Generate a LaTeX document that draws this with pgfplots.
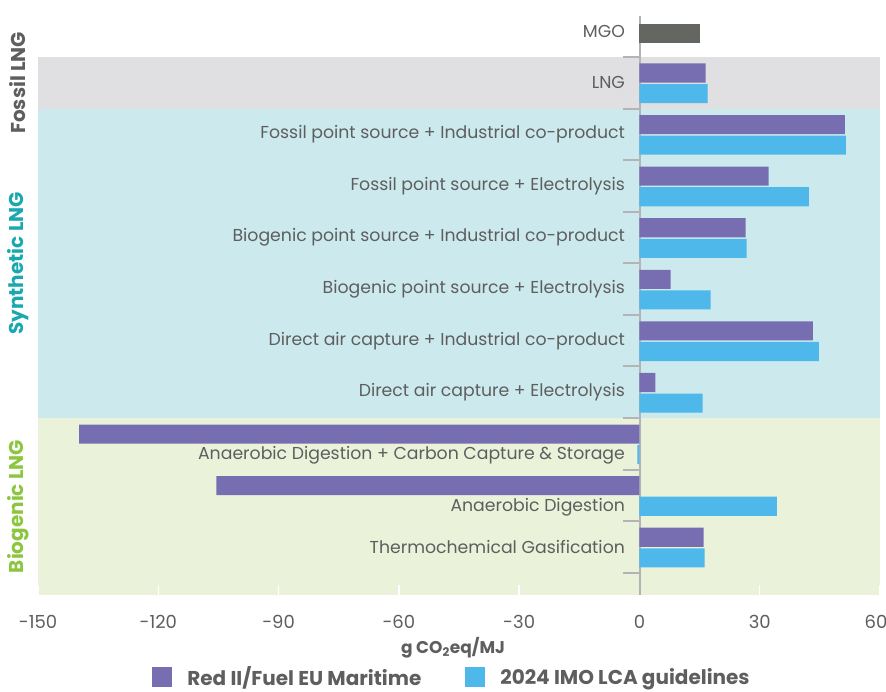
\documentclass[border=0pt]{standalone}
\usepackage{fontspec}
\setmainfont{Poppins}
\usepackage{pgfplots}
\pgfplotsset{compat=1.18}
\definecolor{mypurple}{HTML}{766EB1}
\definecolor{myblue}{HTML}{4DB8E9}
\definecolor{mygreybar}{HTML}{646662}
\definecolor{bandgrey}{HTML}{E0DFE1}
\definecolor{bandcyan}{HTML}{CCEAEE}
\definecolor{bandgreen}{HTML}{EAF3DA}
\definecolor{txt}{HTML}{5E5E5E}
\definecolor{axgrey}{HTML}{B4B4B8}
\definecolor{tealtxt}{HTML}{1AA8B0}
\definecolor{greentxt}{HTML}{8CC63F}
\begin{document}
\begin{tikzpicture}
\begin{axis}[
  set layers,
  scale only axis, width=842pt, height=587pt,
  xmin=-150, xmax=60, ymin=-0.45, ymax=10.93, y dir=reverse,
  axis line style={draw=none},
  xtick={-150,-120,...,60}, ytick=\empty,
  xticklabels={{-150},{-120},{-90},{-60},{-30},{0},{30},{\kern-8pt 60}},
  tick align=inside, major tick length=10pt,
  x tick style={white, line width=1.5pt},
  xticklabel style={font=\fontsize{18}{18}\selectfont, text=txt, yshift=-17pt},
  clip=false,
  legend style={at={(axis cs:-46.75,12.52)}, anchor=center, draw=none, fill=none,
    font=\bfseries\fontsize{20}{20}\selectfont, text=txt,
    /tikz/every odd column/.append style={column sep=13pt},
    /tikz/every even column/.append style={column sep=42pt}},
  legend columns=2,
]
\begin{pgfonlayer}{axis background}
\fill[bandgrey] (axis cs:-150,0.5) rectangle (axis cs:60,1.5);
\fill[bandcyan] (axis cs:-150,1.5) rectangle (axis cs:60,7.5);
\fill[bandgreen] (axis cs:-150,7.5) rectangle (axis cs:60,10.93);
\end{pgfonlayer}
\draw[axgrey, line width=2pt] (axis cs:0.1,-0.3) -- (axis cs:0.1,10.93);
\pgfplotsinvokeforeach{0.5,1.5,2.5,3.5,4.5,5.5,6.5,7.5,8.5,9.5,10.5}{\draw[axgrey, line width=2pt] (axis cs:-4,#1) -- (axis cs:0,#1);}
\addplot[xbar, bar width=0.37, bar shift=0.05, fill=mygreybar, draw=none, forget plot]
  coordinates {(15,0)};
\addplot[xbar, bar width=0.37, bar shift=-0.19, fill=mypurple, draw=none,
  legend image code/.code={\fill[mypurple] (0pt,-10pt) rectangle (20pt,10pt);}]
  coordinates {(16.5,1) (51.25,2) (32.25,3) (26.5,4) (7.75,5) (43.25,6) (4,7) (-139.75,8) (-105.5,9) (16,10)};
\addlegendentry{Red II/Fuel EU Maritime}
\addplot[xbar, bar width=0.37, bar shift=0.21, fill=myblue, draw=none,
  legend image code/.code={\fill[myblue] (0pt,-10pt) rectangle (20pt,10pt);}]
  coordinates {(17,1) (51.5,2) (42.25,3) (26.75,4) (17.75,5) (44.75,6) (15.75,7) (-0.5,8) (34.25,9) (16.25,10)};
\addlegendentry{2024 IMO LCA guidelines}
\begin{scope}[every node/.style={anchor=east, text=txt, font=\fontsize{17.3}{17.3}\selectfont, xshift=-11pt}]
\node at (axis cs:0,0) {MGO};
\node at (axis cs:0,1) {LNG};
\node at (axis cs:0,2) {Fossil point source + Industrial co-product};
\node at (axis cs:0,3) {Fossil point source + Electrolysis};
\node at (axis cs:0,4) {Biogenic point source + Industrial co-product};
\node at (axis cs:0,5) {Biogenic point source + Electrolysis};
\node at (axis cs:0,6) {Direct air capture + Industrial co-product};
\node at (axis cs:0,7) {Direct air capture + Electrolysis};
\node at (axis cs:0,8.22) {Anaerobic Digestion + Carbon Capture \& Storage};
\node at (axis cs:0,9.22) {Anaerobic Digestion};
\node at (axis cs:0,10) {Thermochemical Gasification};
\end{scope}
\begin{scope}[every node/.style={rotate=90, font=\bfseries\fontsize{20}{20}\selectfont}]
\node[text=txt] at ([xshift=-20pt]axis cs:-150,1) {Fossil LNG};
\node[text=tealtxt] at ([xshift=-20pt]axis cs:-150,4.5) {Synthetic LNG};
\node[text=greentxt] at ([xshift=-20pt]axis cs:-150,9.215) {Biogenic LNG};
\end{scope}
\node[text=txt, font=\bfseries\fontsize{17}{17}\selectfont] at ([yshift=-53pt]axis cs:-46.5,10.93) {g CO\textsubscript{2}eq/MJ};
\coordinate (SW) at (axis cs:-150,10.93);
\end{axis}
\pgfresetboundingbox
\path[use as bounding box] (SW) ++(-38pt,-97pt) rectangle ++(886pt,692pt);
\end{tikzpicture}
\end{document}
